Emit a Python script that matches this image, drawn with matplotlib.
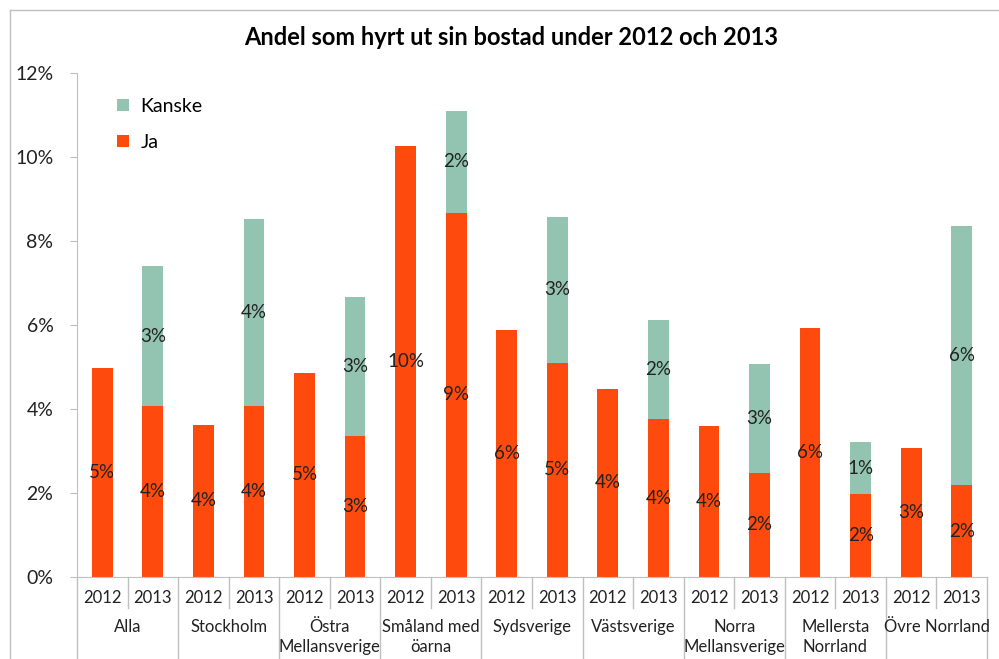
import numpy as np
import matplotlib
matplotlib.use("Agg")
import matplotlib.pyplot as plt
from matplotlib.lines import Line2D

plt.rcParams['font.family'] = ['Lato', 'DejaVu Sans']

regions = ["Alla", "Stockholm", "Östra\nMellansverige", "Småland med\nöarna",
           "Sydsverige", "Västsverige", "Norra\nMellansverige", "Mellersta\nNorrland", "Övre Norrland"]
years = ["2012", "2013"]

# andel (%) per region, 2012 only "Ja"
ja_2012 = [4.98, 3.62, 4.86, 10.26, 5.88, 4.48, 3.60, 5.93, 3.07]
ja_2013 = [4.07, 4.07, 3.36, 8.67, 5.10, 3.76, 2.48, 1.98, 2.19]
kanske_2013 = [3.33, 4.45, 3.31, 2.43, 3.47, 2.36, 2.59, 1.23, 6.17]

c_ja = '#FF4A0D'
c_kanske = '#93C4B1'
gray = '#BFBFBF'
txt = '#222222'

fig = plt.figure(figsize=(9.99, 6.59), dpi=100)
ax = fig.add_axes([0.0771, 0.1244, 0.9109, 0.7648])

n = len(regions)
x12 = np.arange(n) * 2 + 0.5
x13 = np.arange(n) * 2 + 1.5
w = 0.41

ax.bar(x12, ja_2012, w, color=c_ja)
ax.bar(x13, ja_2013, w, color=c_ja, label='Ja')
ax.bar(x13, kanske_2013, w, bottom=ja_2013, color=c_kanske, label='Kanske')

fs = 13.5
for i in range(n):
    ax.text(x12[i], ja_2012[i] / 2, f"{ja_2012[i]:.0f}%", ha='center', va='center', fontsize=fs, color=txt)
    ax.text(x13[i], ja_2013[i] / 2, f"{ja_2013[i]:.0f}%", ha='center', va='center', fontsize=fs, color=txt)
    ax.text(x13[i], ja_2013[i] + kanske_2013[i] / 2, f"{kanske_2013[i]:.0f}%", ha='center', va='center',
            fontsize=fs, color=txt)

ax.set_xlim(0, 2 * n)
ax.set_ylim(0, 12)
ax.set_yticks(range(0, 13, 2))
ax.set_yticklabels([f"{v}%" for v in range(0, 13, 2)], fontsize=14, color=txt)
ax.tick_params(axis='y', length=5, color=gray, pad=12)
ax.set_xticks([])
for s in ['top', 'right']:
    ax.spines[s].set_visible(False)
ax.spines['left'].set_color(gray)
ax.spines['bottom'].set_color(gray)

# multi-level category axis
tr = ax.get_xaxis_transform()
for i in range(n):
    ax.text(x12[i], -0.042, years[0], transform=tr, ha='center', va='center', fontsize=12, color=txt)
    ax.text(x13[i], -0.042, years[1], transform=tr, ha='center', va='center', fontsize=12, color=txt)
    ax.text(2 * i + 1, -0.084, regions[i], transform=tr, ha='center', va='top', fontsize=12,
            color=txt, linespacing=1.3)
    ax.add_line(Line2D([2 * i + 1, 2 * i + 1], [0, -0.062], transform=tr, color=gray, lw=1, clip_on=False))
for i in range(n + 1):
    ax.add_line(Line2D([2 * i, 2 * i], [0, -0.17], transform=tr, color=gray, lw=1, clip_on=False))

ax.set_title("Andel som hyrt ut sin bostad under 2012 och 2013", fontsize=17, fontweight='bold',
             pad=20, x=0.477)

h, l = ax.get_legend_handles_labels()
ax.legend(h[::-1], l[::-1], loc='upper left', bbox_to_anchor=(0.025, 0.985), frameon=False,
          fontsize=14, handlelength=0.6, handleheight=0.6, handletextpad=0.6, labelspacing=0.95)

# outer frame (top and left)
fig.add_artist(Line2D([0.01, 1.0], [0.985, 0.985], transform=fig.transFigure, color=gray, lw=1))
fig.add_artist(Line2D([0.01, 0.01], [0.0, 0.985], transform=fig.transFigure, color=gray, lw=1))

fig.savefig("out.png", dpi=100)
